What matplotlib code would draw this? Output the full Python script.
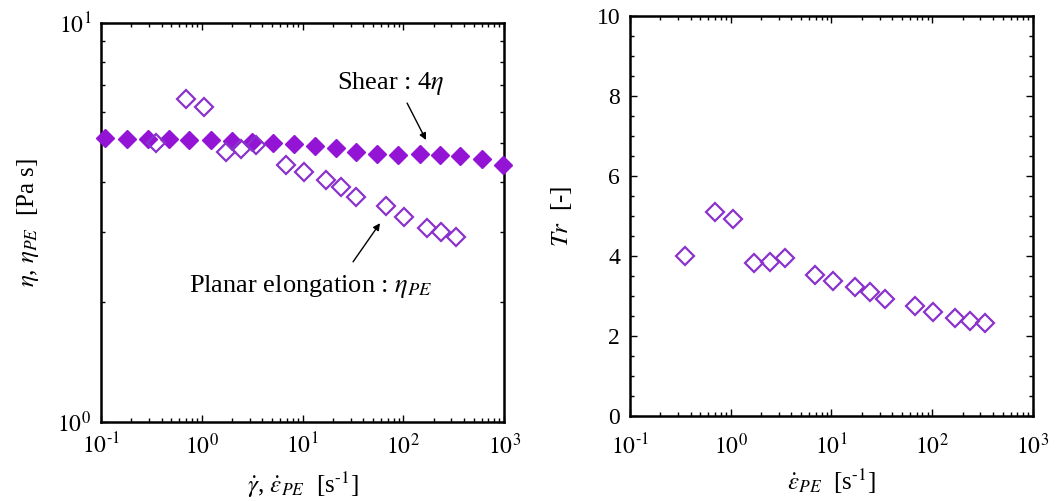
import numpy as np
import matplotlib
matplotlib.use('Agg')
import matplotlib.pyplot as plt
from matplotlib.ticker import LogLocator, MultipleLocator, NullFormatter

plt.rcParams['font.family'] = ['Liberation Serif', 'DejaVu Serif']
plt.rcParams['mathtext.fontset'] = 'stix'

# shear viscosity (plotted as 4*eta)
shear_rate = [0.11, 0.18, 0.29, 0.47, 0.75, 1.23, 1.98, 3.18, 5.06, 8.24,
              13.3, 21.4, 34.2, 55.2, 89, 145, 232, 366, 610, 985]
shear_eta4 = [5.14, 5.12, 5.12, 5.12, 5.09, 5.09, 5.07, 5.04, 5.01, 4.97,
              4.93, 4.86, 4.76, 4.69, 4.68, 4.70, 4.68, 4.65, 4.57, 4.40]

# planar elongation
pe_rate = [0.355, 0.70, 1.05, 1.72, 2.45, 3.47, 6.9, 10.4, 17.1, 24.0,
           34.2, 67.5, 101, 170, 236, 336]
pe_eta = [5.01, 6.44, 6.17, 4.76, 4.82, 4.95, 4.41, 4.22, 4.03, 3.89,
          3.66, 3.47, 3.26, 3.07, 3.00, 2.91]
trouton = [4.00, 5.11, 4.93, 3.82, 3.84, 3.94, 3.53, 3.38, 3.23, 3.11,
           2.92, 2.76, 2.59, 2.46, 2.38, 2.32]

fill_col = '#9414d6'
open_col = '#8a32cc'
xlabels = [r'$10^{\text{-}1}$', r'$10^{0}$', r'$10^{1}$', r'$10^{2}$', r'$10^{3}$']

fig = plt.figure(figsize=(10.57, 5.01), dpi=100)
ax1 = fig.add_axes([0.0956, 0.1577, 0.3813, 0.7964])
ax2 = fig.add_axes([0.596, 0.1697, 0.3813, 0.7984])

ax1.plot(shear_rate, shear_eta4, 'D', ms=8.7, color=fill_col, mec=fill_col, clip_on=False, zorder=3)
ax1.plot(pe_rate, pe_eta, 'D', ms=9.6, mfc='none', mec=open_col, mew=1.6, clip_on=False, zorder=4)
ax1.set_xscale('log')
ax1.set_yscale('log')
ax1.set_xlim(0.1, 1000)
ax1.set_ylim(1, 10)
ax1.set_xticks([0.1, 1, 10, 100, 1000])
ax1.set_xticklabels(xlabels)
ax1.set_yticks([1, 10])
ax1.set_yticklabels([r'$10^{0}$', r'$10^{1}$'])
ax1.yaxis.set_minor_locator(LogLocator(base=10, subs=np.arange(2, 10)))
ax1.yaxis.set_minor_formatter(NullFormatter())
ax1.xaxis.set_minor_locator(LogLocator(base=10, subs=np.arange(2, 10)))
ax1.xaxis.set_minor_formatter(NullFormatter())
ax1.set_xlabel(r'$\dot{\gamma}$, $\dot{\varepsilon}_{PE}$  [s$^{\text{-}1}$]', fontsize=18, labelpad=8)
ax1.set_ylabel(r'$\eta$, $\eta_{PE}$  [Pa s]', fontsize=18, labelpad=12)

# annotations
ax1.text(75, 7.07, r'Shear : 4$\eta$', fontsize=19, ha='center', va='center')
ax1.annotate('', xy=(168, 5.09), xytext=(109, 6.30),
             arrowprops=dict(arrowstyle='-|>', color='black', lw=1, shrinkA=0, shrinkB=0,
                             mutation_scale=10))
ax1.text(11.9, 2.18, r'Planar elongation : $\eta_{PE}$', fontsize=19, ha='center', va='center')
ax1.annotate('', xy=(58.7, 3.15), xytext=(31.7, 2.52),
             arrowprops=dict(arrowstyle='-|>', color='black', lw=1, shrinkA=0, shrinkB=0,
                             mutation_scale=10))

ax2.plot(pe_rate, trouton, 'D', ms=9.6, mfc='none', mec=open_col, mew=1.6, clip_on=False, zorder=4)
ax2.set_xscale('log')
ax2.set_xlim(0.1, 1000)
ax2.set_ylim(0, 10)
ax2.set_xticks([0.1, 1, 10, 100, 1000])
ax2.set_xticklabels(xlabels)
ax2.xaxis.set_minor_locator(LogLocator(base=10, subs=np.arange(2, 10)))
ax2.xaxis.set_minor_formatter(NullFormatter())
ax2.yaxis.set_major_locator(MultipleLocator(2))
ax2.yaxis.set_minor_locator(MultipleLocator(0.5))
ax2.set_xlabel(r'$\dot{\varepsilon}_{PE}$  [s$^{\text{-}1}$]', fontsize=18, labelpad=5)
ax2.set_ylabel(r'$Tr$  [-]', fontsize=18, labelpad=16)

for ax in (ax1, ax2):
    for s in ax.spines.values():
        s.set_linewidth(1.8)
    ax.tick_params(which='both', direction='in', top=True, right=True, labelsize=17, width=1)
    ax.tick_params(which='major', length=5)
    ax.tick_params(which='minor', length=3)
    ax.tick_params(axis='y', which='major', pad=7)
ax1.tick_params(axis='x', which='major', pad=8)
ax2.tick_params(axis='x', which='major', pad=13)

fig.savefig('out.png', dpi=100)
